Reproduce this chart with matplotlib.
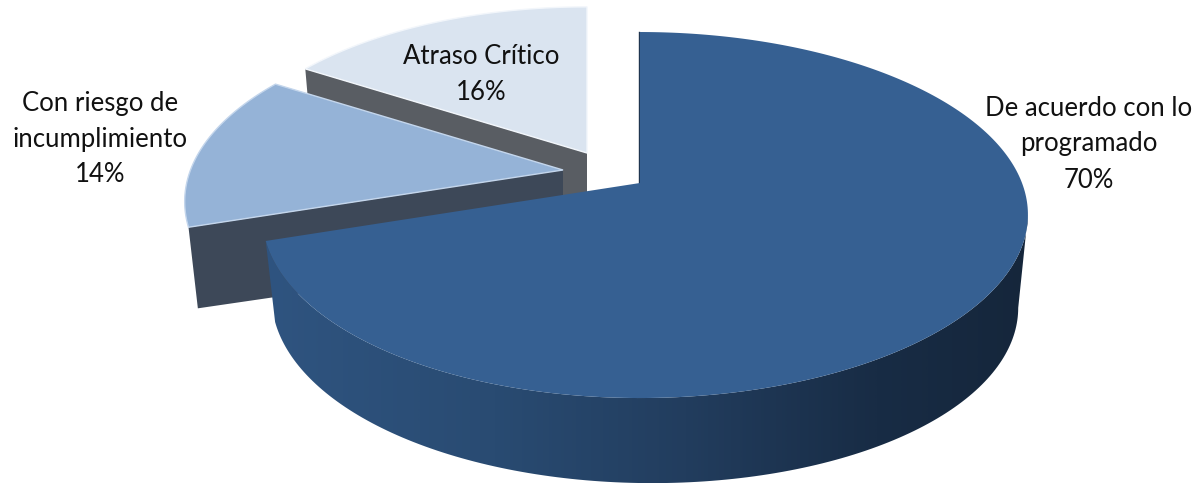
import numpy
import matplotlib
matplotlib.use("Agg")
import matplotlib.pyplot
from matplotlib.colors import LinearSegmentedColormap
from matplotlib.patches import Polygon

categories = ["De acuerdo con lo\nprogramado", "Con riesgo de\nincumplimiento", "Atraso Crítico"]
values = [70, 14, 16]
top_colors = ["#366092", "#95B3D7", "#DAE4F0"]
side_colors = ["#2A4A70", "#3D4858", "#595D63"]
edge_colors = ["#4A76AC", "#C4D6EC", "#F2F6FB"]

# layout, in pixels of the 1202x483 canvas
apexes = [(640, 183), (563, 170), (587, 153)]
scales = [1.0, 0.988, 0.968]
skews = [0.0133, 0.0, 0.0]
label_xy = [(1089, 144), (100, 139), (481, 74)]
persp = 0.175
rx, ry = 377.0, 177.4


def rim(angles, i):
  # angles in degrees clockwise from 12 o'clock, projected with a bit of perspective
  apex = apexes[i]
  t = numpy.radians(angles)
  u, v = numpy.sin(t), numpy.cos(t)
  w = 1 + persp*v
  return numpy.column_stack([apex[0] + scales[i]*rx*u*(1 + skews[i]*u)/w, apex[1] - scales[i]*ry*v/w])


def lower(points, apex):
  # the wall is a little deeper on the right hand side
  p = numpy.asarray(points, dtype=float)
  s = (p[:, 0] - apex[0])/388.0
  return numpy.column_stack([apex[0] + 0.975*(p[:, 0] - apex[0]), p[:, 1] + 85 + 6*s + 2*s*s])


def main():
  matplotlib.rcParams["font.family"] = "Lato"
  fig = matplotlib.pyplot.figure(figsize=(12.02, 4.83), dpi=100)
  ax = fig.add_axes([0, 0, 1, 1])
  ax.set_xlim(0, 1202)
  ax.set_ylim(483, 0)
  ax.axis("off")

  bounds = numpy.cumsum([0] + values)*360.0/sum(values)
  spans = [(bounds[i], bounds[i + 1]) for i in range(len(values))]

  # back slices first, then the big one on top of them
  for i in [2, 1]:
    start, end = spans[i]
    apex = apexes[i]
    corner = rim(numpy.array([start]), i)
    face = numpy.vstack([[apex], corner, lower(corner, apex), lower([apex], apex)])
    ax.add_patch(Polygon(face, closed=True, fc=side_colors[i], ec="none", zorder=1))
    pts = rim(numpy.linspace(start, end, 80), i)
    ax.add_patch(Polygon(numpy.vstack([[apex], pts]), closed=True, fc=top_colors[i], ec=edge_colors[i], lw=1.0, zorder=1))

  start, end = spans[0]
  apex = apexes[0]
  arc = rim(numpy.linspace(100, end, 160), 0)
  side = Polygon(numpy.vstack([arc, lower(arc, apex)[::-1]]), closed=True, fc="none", ec="none", zorder=2)
  ax.add_patch(side)
  shade = LinearSegmentedColormap.from_list("shade", [(0.0, "#2F5480"), (0.30, "#294B72"), (0.55, "#223D5E"), (0.80, "#182C45"), (1.0, "#15263B")])
  img = ax.imshow(numpy.linspace(0, 1, 512).reshape(1, -1), cmap=shade, extent=(265, 1030, 483, 200), aspect="auto", zorder=2)
  img.set_clip_path(side)
  ax.set_xlim(0, 1202)
  ax.set_ylim(483, 0)

  pts = rim(numpy.linspace(start, end, 300), 0)
  ax.add_patch(Polygon(numpy.vstack([[apex], pts]), closed=True, fc=top_colors[0], ec="none", zorder=3))
  ax.plot([apex[0] - 1, pts[0, 0] - 1], [apex[1], pts[0, 1]], color="#1F3550", lw=1.0, zorder=2.5)

  for name, value, xy in zip(categories, values, label_xy):
    ax.text(xy[0], xy[1], f"{name}\n{value}%", ha="center", va="center", ma="center", fontsize=18.5, linespacing=1.55, color="#111111", zorder=5)

  fig.savefig("out.png", dpi=100)


if __name__ == "__main__":
  main()
